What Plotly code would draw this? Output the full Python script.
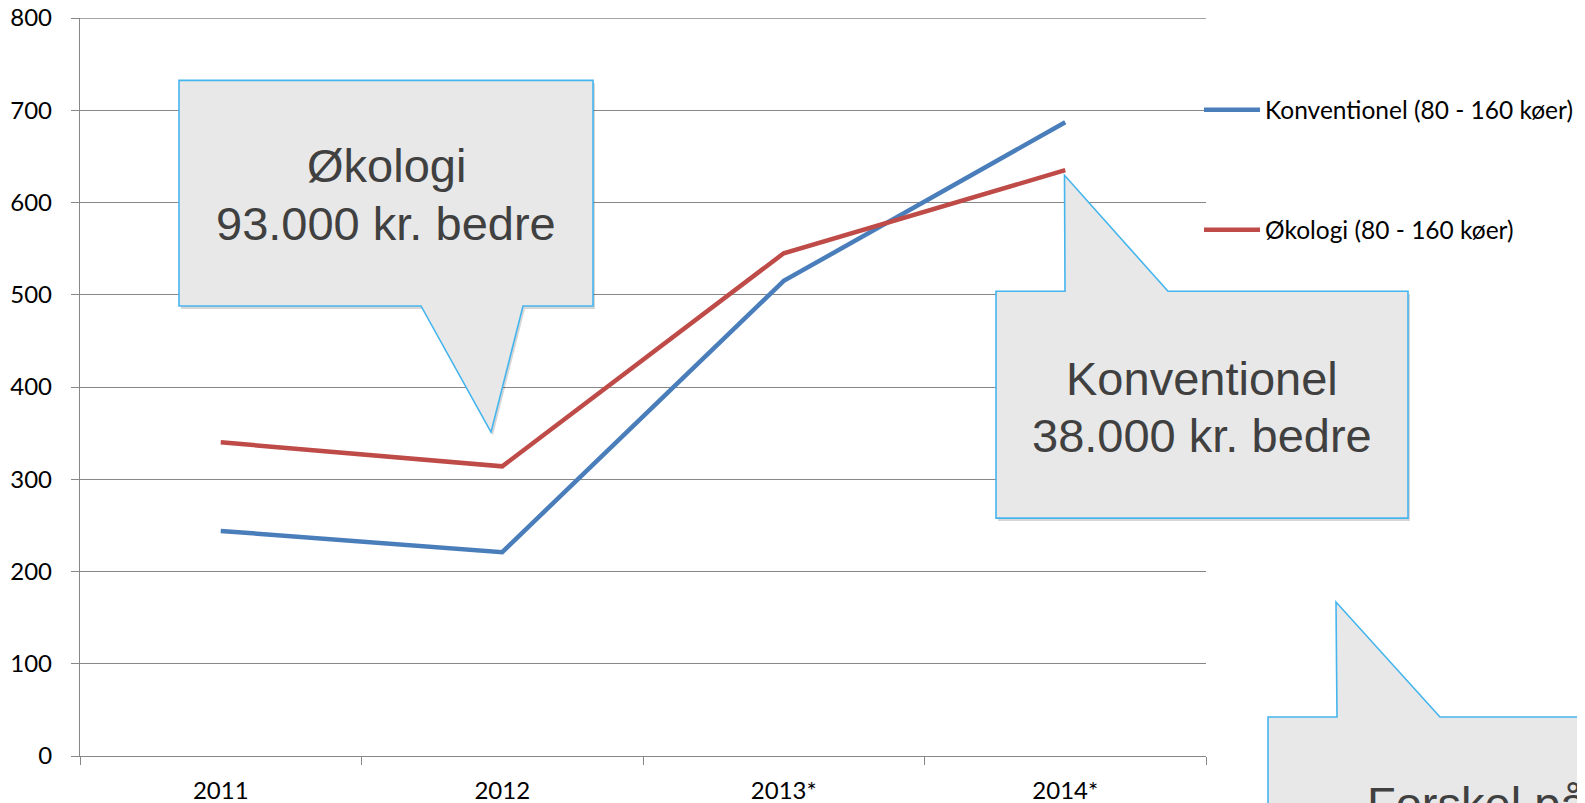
import plotly.graph_objects as go

# ---- data (values in 1000 kr.) ----
years = ["2011", "2012", "2013*", "2014*"]
konventionel = [244, 221, 515, 687]
okologi = [340, 314, 545, 635]
series_names = ["Konventionel (80 - 160 køer)", "Økologi (80 - 160 køer)"]
y_ticks = [0, 100, 200, 300, 400, 500, 600, 700, 800]

OFF = 8  # page body margin
W, H = 1585 - OFF, 803 - OFF
PL, PR, PT, PB = 80, 1206, 17.6, 756  # page pixel coordinates of plot area


def px(x):
    return (x - PL) / (PR - PL)


def py(y):
    return (PB - y) / (PB - PT)


def path(points, dx=0, dy=0):
    s = ""
    for i, (x, y) in enumerate(points):
        s += ("M" if i == 0 else "L") + f"{px(x + dx):.5f},{py(y + dy):.5f} "
    return s + "Z"


GRID = "#878787"
TICKFONT = dict(family="Lato, 'Open Sans', sans-serif", size=24, color="#000000")
LEGFONT = dict(family="Lato, 'Open Sans', sans-serif", size=24.5, color="#000000")

fig = go.Figure()
fig.add_trace(go.Scatter(x=years, y=konventionel, mode="lines", name=series_names[0],
                         line=dict(color="#4A7EBB", width=4.5), legendgroup="a"))
fig.add_trace(go.Scatter(x=years, y=okologi, mode="lines", name=series_names[1],
                         line=dict(color="#BE4B48", width=4.5), legendgroup="b"))

callouts = [
    [(179, 80), (593, 80), (593, 305.7), (523, 305.7), (491, 432), (421, 305.7), (179, 305.7)],
    [(996, 291), (1065, 291), (1064.5, 175), (1168, 291), (1408, 291), (1408, 518), (996, 518)],
    [(1268, 717), (1337, 717), (1336, 602), (1440, 717), (1620, 717), (1620, 840), (1268, 840)],
]
# top gridline at the upper end of the range
shapes = [dict(type="line", xref="paper", yref="y", x0=0, x1=1, y0=y_ticks[-1], y1=y_ticks[-1],
               line=dict(color=GRID, width=1.3), layer="below")]
for pts in callouts:
    shapes.append(dict(type="path", xref="paper", yref="paper", path=path(pts, 2, 3),
                       fillcolor="rgba(0,0,0,0.16)", line=dict(width=0), layer="above"))
    shapes.append(dict(type="path", xref="paper", yref="paper", path=path(pts),
                       fillcolor="#E8E8E8", line=dict(color="#45B5EE", width=1.6), layer="above"))

CF = dict(family="'Liberation Sans', Arial, sans-serif", size=47, color="#404040")
texts = [
    ("Økologi", 386, 165, "center"),
    ("93.000 kr. bedre", 386, 223, "center"),
    ("Konventionel", 1202, 378, "center"),
    ("38.000 kr. bedre", 1202, 435, "center"),
    ("Forskel på", 1365, 804, "left"),
]
annotations = [dict(text=t, x=px(x), y=py(y), xref="paper", yref="paper", xanchor=a,
                    yanchor="middle", showarrow=False, font=CF) for t, x, y, a in texts]

fig.update_layout(
    width=W, height=H,
    margin=dict(l=PL - OFF, r=(W + OFF) - PR, t=PT - OFF, b=(H + OFF) - PB, autoexpand=False),
    paper_bgcolor="white", plot_bgcolor="white",
    showlegend=True,
    legend=dict(x=px(1199), xanchor="left", y=py(87), yanchor="top", traceorder="grouped",
                tracegroupgap=85, font=LEGFONT, bgcolor="rgba(0,0,0,0)",
                itemwidth=56),
    shapes=shapes,
    annotations=annotations,
    xaxis=dict(type="category", range=[-0.5, 3.5], tickson="boundaries", ticks="outside",
               ticklen=8, tickcolor=GRID, tickwidth=1.3, showline=True, linecolor=GRID,
               linewidth=1.3, showgrid=False, tickfont=TICKFONT, ticklabelstandoff=13,
               automargin=False),
    yaxis=dict(range=[0, 800], tickvals=y_ticks, ticks="outside", ticklen=8, tickcolor=GRID,
               tickwidth=1.3, showline=True, linecolor=GRID, linewidth=1.3, showgrid=True,
               gridcolor=GRID, gridwidth=1.3, zeroline=False, tickfont=TICKFONT,
               ticklabelstandoff=14, ticklabeloverflow="allow", automargin=False),
)

fig.write_html("out.html")
